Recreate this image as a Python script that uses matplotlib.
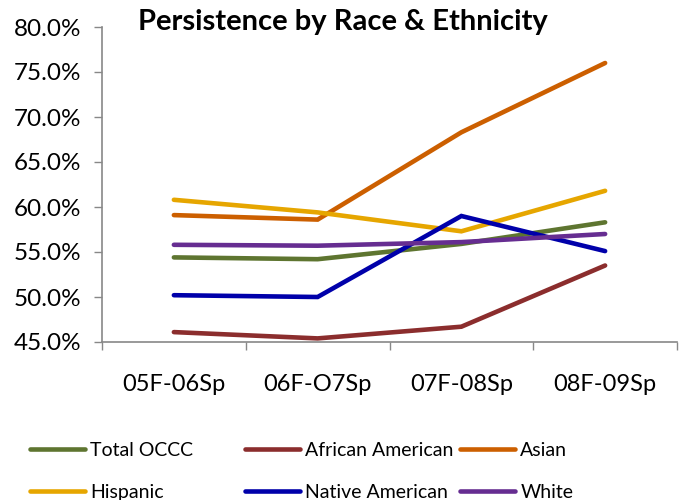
import matplotlib
matplotlib.use("Agg")
import matplotlib.pyplot as plt
from matplotlib.ticker import FuncFormatter, FixedLocator

categories = ["05F-06Sp", "06F-O7Sp", "07F-08Sp", "08F-09Sp"]
total_occc = [54.4, 54.2, 55.9, 58.3]
african_american = [46.1, 45.4, 46.7, 53.5]
asian = [59.1, 58.6, 68.3, 76.0]
hispanic = [60.8, 59.4, 57.3, 61.8]
native_american = [50.2, 50.0, 59.0, 55.1]
white = [55.8, 55.7, 56.1, 57.0]

series = [
    ("Total OCCC", total_occc, "#5E7530"),
    ("African American", african_american, "#8B2D2D"),
    ("Asian", asian, "#CC5F00"),
    ("Hispanic", hispanic, "#E6A600"),
    ("Native American", native_american, "#0000AA"),
    ("White", white, "#662D91"),
]

plt.rcParams['font.family'] = ['Lato', 'DejaVu Sans']

fig = plt.figure(figsize=(6.81, 5.0), dpi=100)
ax = fig.add_axes([102/681, 1-342/500, (677-102)/681, (342-27)/500])

x = list(range(len(categories)))
handles = {}
for name, vals, col in series:
    h, = ax.plot(x, vals, color=col, lw=3.3, solid_capstyle='round', solid_joinstyle='miter', label=name)
    handles[name] = h

ax.set_xlim(-0.5, len(categories) - 0.5)
ax.set_ylim(45, 80)
ax.set_yticks([45, 50, 55, 60, 65, 70, 75, 80])
ax.yaxis.set_major_formatter(FuncFormatter(lambda v, p: f"{v:.1f}%"))

ax.xaxis.set_major_locator(FixedLocator([i - 0.5 for i in range(len(categories) + 1)]))
ax.xaxis.set_minor_locator(FixedLocator(x))
ax.set_xticklabels([], minor=False)
ax.set_xticklabels(categories, minor=True)
ax.tick_params(axis='x', which='major', length=6, width=1, color='#888888', direction='out', bottom=True)
ax.tick_params(axis='x', which='minor', length=0, pad=23, labelsize=17, labelcolor='#000000')
ax.tick_params(axis='y', length=6, width=1, color='#888888', direction='out', labelsize=17.5, pad=9)

for s in ['top', 'right']:
    ax.spines[s].set_visible(False)
for s in ['left', 'bottom']:
    ax.spines[s].set_color('#888888')
    ax.spines[s].set_linewidth(1.2)

fig.text(343/681, 1-22/500, "Persistence by Race & Ethnicity", ha='center', va='center',
         fontsize=21, fontweight='bold')

cols = [(["Total OCCC", "Hispanic"], 30), (["African American", "Native American"], 245), (["Asian", "White"], 460)]
for names, xpx in cols:
    fig.legend([handles[n] for n in names], names, loc='upper left',
               bbox_to_anchor=(xpx/681, 1-442/500), frameon=False, fontsize=14,
               handlelength=2.85, handletextpad=0.25, labelspacing=1.28, borderaxespad=0, borderpad=0)

fig.savefig("out.png", dpi=100)
